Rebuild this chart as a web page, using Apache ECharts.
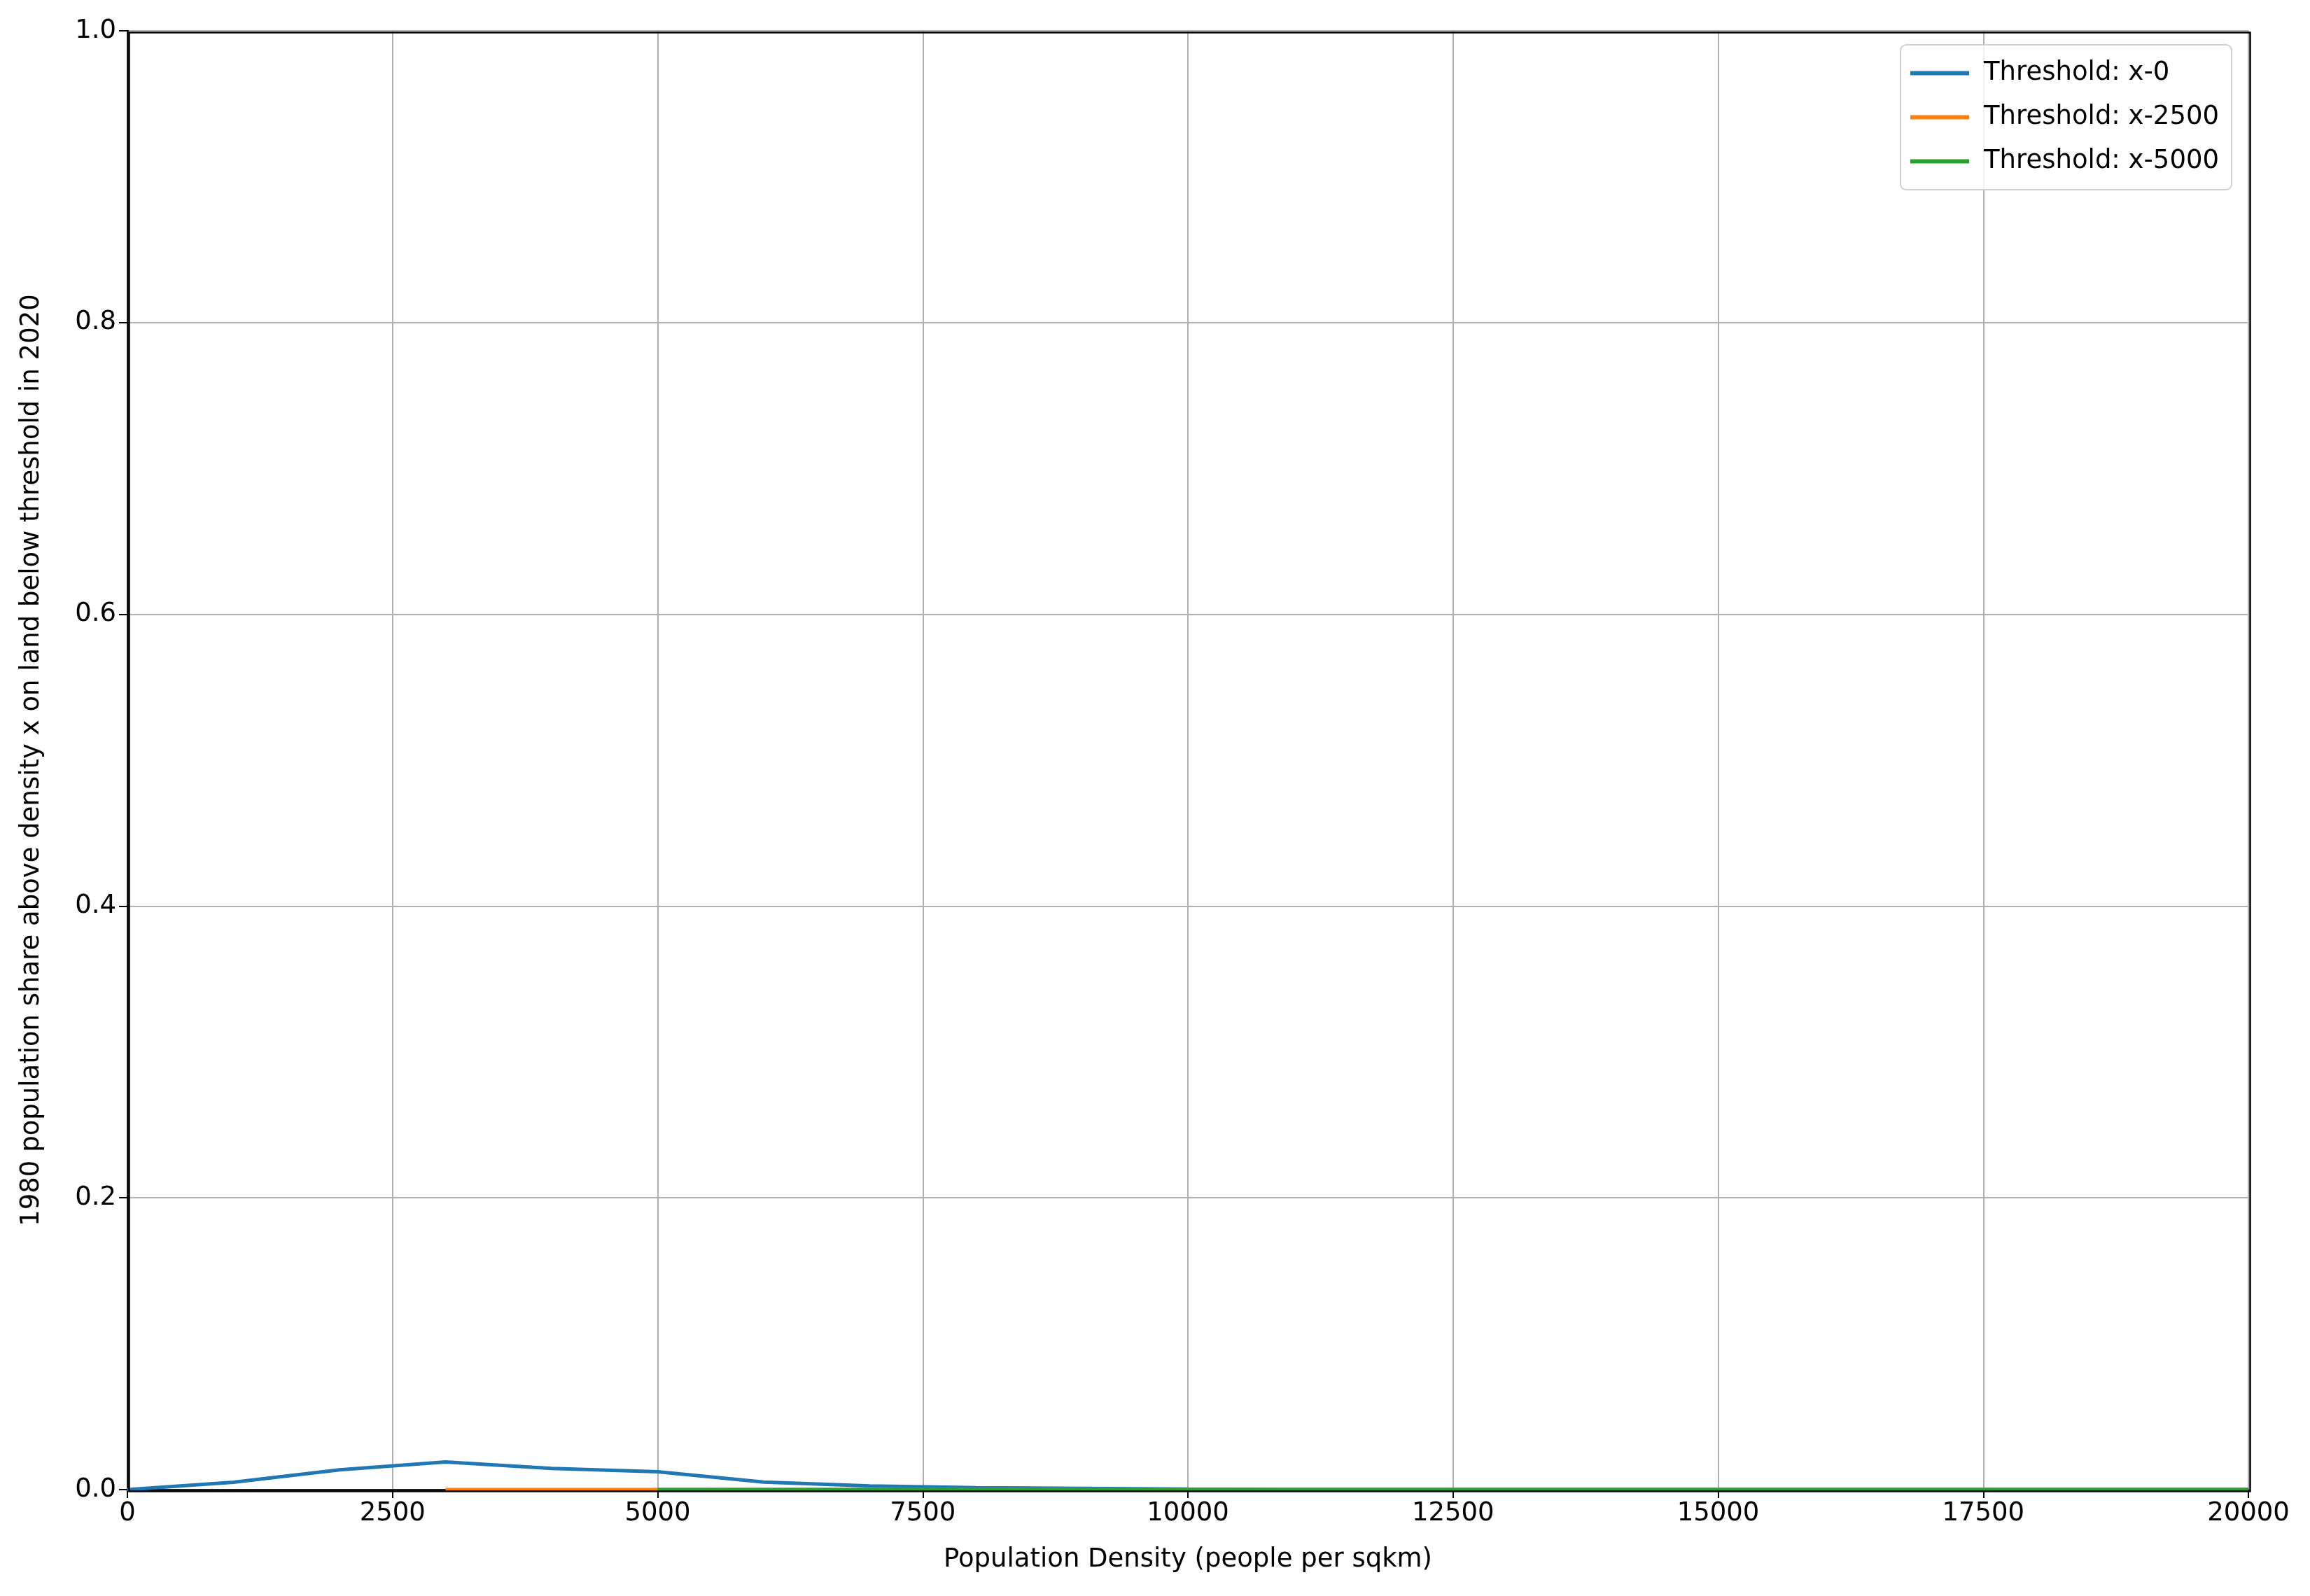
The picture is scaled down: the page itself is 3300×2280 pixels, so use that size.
<html>
<head>
<meta charset="utf-8">
<script src="https://cdn.jsdelivr.net/npm/echarts@6/dist/echarts.min.js"></script>
<style>html,body{margin:0;background:#fff}</style>
</head>
<body>
<div id="main" style="width:3300px;height:2280px"></div>
<script>
// density values (people per sqkm)
var xs = [0,1000,2000,3000,4000,5000,6000,7000,8000,9000,10000,11000,12000,13000,14000,15000,16000,17000,18000,19000,20000];
var share0 = [0,0.005,0.0136,0.019,0.0145,0.0122,0.0052,0.0025,0.0013,0.0008,0.0003,0,0,0,0,0,0,0,0,0,0];
var xs2500 = [3000,4000,5000,6000,7000,8000,9000,10000,11000,12000,13000,14000,15000,16000,17000,18000,19000,20000];
var share2500 = [0,0,0,0,0,0,0,0,0,0,0,0,0,0,0,0,0,0];
var xs5000 = [5000,6000,7000,8000,9000,10000,11000,12000,13000,14000,15000,16000,17000,18000,19000,20000];
var share5000 = [0,0,0,0,0,0,0,0,0,0,0,0,0,0,0,0];
var names = ['Threshold: x-0','Threshold: x-2500','Threshold: x-5000'];
var colors = ['#1f77b4','#ff7f0e','#2ca02c'];

function pairs(a, b) {
    var out = [];
    for (var i = 0; i < a.length; i++) out.push([a[i], b[i]]);
    return out;
}

var font = 'DejaVu Sans';
var chart = echarts.init(document.getElementById('main'));
chart.setOption({
    animation: false,
    color: colors,
    grid: { left: 182, right: 88, top: 44, bottom: 152 },
    legend: {
        top: 64, right: 112, orient: 'vertical',
        itemWidth: 84, itemHeight: 6, itemGap: 26,
        icon: 'rect',
        padding: [22, 18, 22, 14],
        borderColor: '#d0d0d0', borderWidth: 2, borderRadius: 8,
        backgroundColor: 'rgba(255,255,255,0.8)',
        textStyle: { fontFamily: font, fontSize: 37, color: '#000', padding: [0, 0, 0, 16] },
        data: names
    },
    xAxis: {
        type: 'value', min: 0, max: 20000, interval: 2500,
        name: 'Population Density (people per sqkm)', nameLocation: 'middle', nameGap: 82,
        nameTextStyle: { fontFamily: font, fontSize: 37, color: '#000' },
        axisLine: { onZero: false, lineStyle: { color: '#000', width: 2.5 } },
        axisTick: { length: 12, lineStyle: { color: '#000', width: 2 } },
        axisLabel: { fontFamily: font, fontSize: 37, color: '#000', margin: 16,
            formatter: function (v) { return String(v); } },
        splitLine: { lineStyle: { color: '#b0b0b0', width: 2 } }
    },
    yAxis: {
        type: 'value', min: 0, max: 1, interval: 0.2,
        name: '1980 population share above density x on land below threshold in 2020',
        nameLocation: 'middle', nameGap: 118,
        nameTextStyle: { fontFamily: font, fontSize: 37, color: '#000' },
        axisLine: { show: true, lineStyle: { color: '#000', width: 2.5 } },
        axisTick: { show: true, length: 12, lineStyle: { color: '#000', width: 2 } },
        axisLabel: { fontFamily: font, fontSize: 37, color: '#000', margin: 16,
            formatter: function (v) { return v.toFixed(1); } },
        splitLine: { lineStyle: { color: '#b0b0b0', width: 2 } }
    },
    series: [
        { name: names[0], type: 'line', data: pairs(xs, share0), showSymbol: false, lineStyle: { width: 5 } },
        { name: names[1], type: 'line', data: pairs(xs2500, share2500), showSymbol: false, lineStyle: { width: 5 } },
        { name: names[2], type: 'line', data: pairs(xs5000, share5000), showSymbol: false, lineStyle: { width: 5 } }
    ],
    graphic: [{
        type: 'rect', left: 182, top: 44, z: 100, silent: true,
        shape: { width: 3030, height: 2084 },
        style: { fill: 'none', stroke: '#000', lineWidth: 2.5 }
    }]
});
</script>
</body>
</html>
